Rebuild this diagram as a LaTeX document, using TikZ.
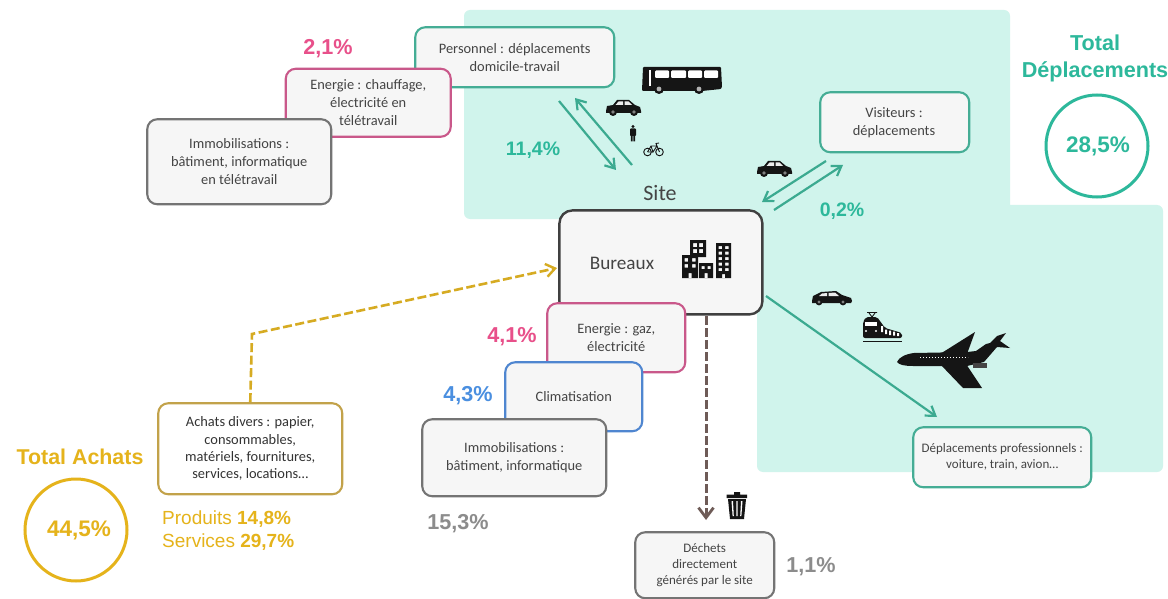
\documentclass[tikz,border=0pt]{standalone}
\usepackage{fontspec}
\setmainfont{Carlito}
\newfontfamily\pctfont{Liberation Sans}
\usetikzlibrary{arrows.meta,calc}
\definecolor{bgteal}{HTML}{D0F4EC}
\definecolor{teal}{HTML}{2DB89B}
\definecolor{arrteal}{HTML}{3BAA90}
\definecolor{boxfill}{HTML}{F6F6F6}
\definecolor{gold}{HTML}{E5B31B}
\definecolor{golddk}{HTML}{C2A24A}
\definecolor{golddash}{HTML}{D6AB22}
\definecolor{pinkb}{HTML}{C9588A}
\definecolor{pinkt}{HTML}{E8508A}
\definecolor{blueb}{HTML}{4F86D0}
\definecolor{bluet}{HTML}{4A8FE0}
\definecolor{grayb}{HTML}{747474}
\definecolor{grayt}{HTML}{8C8C8C}
\definecolor{tealb}{HTML}{45AD95}
\definecolor{brownd}{HTML}{6E5B57}
\definecolor{ink}{HTML}{444444}
\definecolor{icon}{HTML}{151515}
\tikzset{
  panel/.style={fill=bgteal,draw=none,rounded corners=6pt},
  box/.style={draw=#1,fill=boxfill,line width=2.1pt,rounded corners=10pt,text=ink,align=center,font=\fontsize{14.4}{18}\selectfont,inner sep=0pt,anchor=north west,xshift=-0.8pt,yshift=0.8pt},
  pct/.style={text=#1,font=\pctfont\bfseries\fontsize{21.6}{24}\selectfont,inner sep=0pt},
  flow/.style={draw=arrteal,line width=2.2pt,-{Straight Barb[length=9pt,width=12pt,line width=2.2pt]}},
  ring/.style={circle,draw=#1,line width=3pt,minimum size=102pt,inner sep=0pt},
  ringtext/.style={text=#1,inner sep=0pt,font=\pctfont\bfseries\fontsize{22.5}{24}\selectfont},
  ic/.style={fill=icon,draw=none},
}
\newcommand\caricon[3]{%
 \begin{scope}[shift={(#1,#2)},x=#3/35,y=-#3/35]
  \fill[ic] (0,11) -- (1,6) -- (7,5) -- (11,0) -- (23,0) -- (29,5) -- (34,7) -- (35,11) -- (35,13) -- (0,13) -- cycle;
  \fill[white!85!gray] (12.5,1.5) -- (17,1.5) -- (17,5) -- (9.5,5) -- cycle (18.5,1.5) -- (22.5,1.5) -- (26,5) -- (18.5,5) -- cycle;
  \fill[ic] (7,12) circle (4) (28,12) circle (4);
  \fill[gray] (7,12) circle (1.9) (28,12) circle (1.9);
 \end{scope}}
\newcommand\wagonicon[3]{%
 \begin{scope}[shift={(#1,#2)},x=#3/40,y=-#3/40]
  \fill[ic] (0,10) -- (1,5) -- (9,1) -- (24,0) -- (30,4) -- (39,7) -- (40,10) -- (39,12) -- (0,12) -- cycle;
  \fill[white!85!gray] (10,2.5) -- (15,2) -- (15,5) -- (7,5) -- cycle (16.5,2) -- (23,1.5) -- (27,5) -- (16.5,5) -- cycle;
  \fill[ic] (7,11) circle (3.4) (31,11) circle (3.4);
  \fill[gray] (7,11) circle (1.6) (31,11) circle (1.6);
 \end{scope}}
\begin{document}
\begin{tikzpicture}[x=1pt,y=-1pt]
\useasboundingbox (0,0) rectangle (1168,599);
\fill[white] (0,0) rectangle (1168,599);
% panels
\path[panel] (464,10) rectangle (1010,219);
\path[panel] (757,205) rectangle (1163,472);
% upper-left stack
\node[box=tealb,minimum width=199pt,minimum height=60pt] (pers) at (415,27) {Personnel : déplacements\\domicile-travail};
\node[box=pinkb,minimum width=165pt,minimum height=68pt] (enh) at (285.5,68.5) {Energie : chauffage,\\électricité en\\télétravail};
\node[box=grayb,minimum width=184pt,minimum height=85pt] (imh) at (147,119) {Immobilisations :\\bâtiment, informatique\\en télétravail};
% visitors, pro
\node[box=tealb,minimum width=149pt,minimum height=60pt] (vis) at (820,92) {};
\node[text=ink,align=center,font=\fontsize{14.4}{18}\selectfont,inner sep=0pt] (vist) at (894,123) {Visiteurs :\\déplacements};
\node[box=tealb,minimum width=178pt,minimum height=60pt,font=\fontsize{13}{16}\selectfont] (pro) at (913,427) {Déplacements professionnels :\\voiture, train, avion…};
% Bureaux
\node[box=ink,minimum width=203pt,minimum height=104pt,line width=2.4pt,rounded corners=13pt,draw=black!75] (bur) at (559,210) {};
\node[text=ink,font=\fontsize{19.2}{20}\selectfont,inner sep=0pt] (burt) at (622,263.5) {Bureaux};
% lower stack
\node[box=pinkb,minimum width=138pt,minimum height=69pt] (enb) at (547,303) {Energie : gaz,\\électricité};
\node[box=blueb,minimum width=137pt,minimum height=69pt] (cli) at (505,362) {Climatisation};
\node[box=grayb,minimum width=184pt,minimum height=77pt] (imb) at (422,419) {Immobilisations :\\bâtiment, informatique};
% achats, dechets
\node[box=golddk,fill=white,text=black!80,minimum width=184pt,minimum height=91pt,font=\fontsize{14.4}{17.4}\selectfont] (ach) at (158,403) {Achats divers : papier,\\consommables,\\matériels, fournitures,\\services, locations…};
\node[box=grayb,minimum width=139pt,minimum height=66pt,font=\fontsize{13}{16}\selectfont] (dec) at (635,532) {Déchets\\directement\\générés par le site};
% connector ends
\coordinate (p1) at (559,101); \coordinate (p2) at (616,170);
\coordinate (p3) at (632,165); \coordinate (p4) at (575,98);
\coordinate (v1) at (826,161); \coordinate (v2) at (762,202);
\coordinate (v3) at (774,210); \coordinate (v4) at (843,165);
\coordinate (t1) at (766,296); \coordinate (t2) at (937,417);
\coordinate (a1) at (252,334); \coordinate (a2) at (557,268);
\coordinate (d1) at (706,316); \coordinate (d2) at (706,520);
\draw[flow] (p1) -- (p2);
\draw[flow] (p3) -- (p4);
\draw[flow] (v1) -- (v2);
\draw[flow] (v3) -- (v4);
\draw[flow] (t1) -- (t2);
\draw[draw=golddash,line width=2.6pt,dash pattern=on 9pt off 3.5pt,-{Straight Barb[length=9pt,width=13pt,line width=2.4pt]}] (ach.north) -- (a1) -- (a2);
\draw[draw=brownd,line width=3pt,dash pattern=on 9pt off 3pt,-{Straight Barb[length=10pt,width=15pt,line width=2.8pt]}] (d1) -- (d2);
% labels
\node[text=ink,font=\fontsize{22}{24}\selectfont,inner sep=0pt] (site) at (660,193) {Site};
\node[pct=pinkt] (l1) at (328,49) {2,1\%};
\node[pct=teal,font=\pctfont\bfseries\fontsize{19.5}{22}\selectfont] (l2) at (533,150) {11,4\%};
\node[pct=teal,font=\pctfont\bfseries\fontsize{19.5}{22}\selectfont] (l3) at (842,211) {0,2\%};
\node[pct=pinkt] (l4) at (512,337) {4,1\%};
\node[pct=bluet] (l5) at (468,396) {4,3\%};
\node[pct=grayt] (l6) at (458,524) {15,3\%};
\node[pct=grayt] (l7) at (811,567) {1,1\%};
\node[text=teal,align=center,font=\pctfont\bfseries\fontsize{21.6}{26.5}\selectfont,inner sep=0pt] (td) at (1095,58.5) {Total\\Déplacements};
\node[ring=teal] (rd) at (1097,146) {};
\node[ringtext=teal] (rdt) at (1098,146.5) {28,5\%};
\node[text=gold,font=\pctfont\bfseries\fontsize{21.4}{24}\selectfont,inner sep=0pt] (ta) at (80,457) {Total Achats};
\node[ring=gold] (ra) at (76,530) {};
\node[ringtext=gold] (rat) at (79,530.5) {44,5\%};
\node[text=gold,align=left,anchor=north west,inner sep=0pt,font=\pctfont\fontsize{19}{22.5}\selectfont] (prod) at (162,511) {Produits \textbf{14,8\%}\\Services \textbf{29,7\%}};
% bus
\begin{scope}[shift={(642,67)}]
 \fill[ic,rounded corners=1pt] (1,0) -- (79,0) -- (80,20) -- (79,22) -- (60,24) -- (0,24) -- cycle;
 \fill[white] (7,3.5) rectangle (9,19);
 \fill[white,rounded corners=1pt] (13,3.5) rectangle (27,11) (29,3.5) rectangle (44,11) (46,3.5) rectangle (60,11) (62,3.5) rectangle (76,11);
 \fill[ic] (17,22) circle (5) (57,22) circle (5);
 \fill[gray!60] (17,22) circle (2.4) (57,22) circle (2.4);
\end{scope}
\caricon{606}{100}{35}
\caricon{757}{161}{35}
\wagonicon{812}{291}{40}
% walker
\begin{scope}[shift={(633,125)}]
 \fill[ic] (0,1.5) circle (1.6);
 \fill[ic,rounded corners=0.8pt] (-3,3.5) rectangle (3,11);
 \fill[ic] (-2.2,10) rectangle (-0.3,16.5) (0.3,10) rectangle (2.2,16.5);
\end{scope}
% bicycle
\begin{scope}[shift={(643,142)},line width=0.9pt,draw=icon]
 \draw (4.5,10) circle (3.8) (16.5,10) circle (3.8);
 \draw (4.5,10) -- (8,4) -- (14,4) -- (16.5,10) (8,4) -- (10,10) -- (14,4) (4.5,10) -- (10,10) (14,4) -- (13,1.5) -- (16,1);
\end{scope}
% buildings
\begin{scope}[shift={(682,240)},even odd rule]
 \fill[ic] (8,0) rectangle (24,17)  (11,3) rectangle (15,7) (17,3) rectangle (21,7) (11,9) rectangle (15,13) (17,9) rectangle (21,13);
 \fill[ic] (0,15) rectangle (16,38)  (2.5,18) rectangle (6,21.5) (10,18) rectangle (13.5,21.5) (2.5,24) rectangle (6,27.5) (10,24) rectangle (13.5,27.5) (6.5,33) rectangle (9.5,38);
 \fill[ic] (17,23) rectangle (31,38) (19.5,26) rectangle (22.5,29) (25.5,26) rectangle (28.5,29) (22.5,33) rectangle (25.5,38);
 \fill[ic] (34,3) rectangle (49,38) (36.5,6) rectangle (40,9) (43,6) rectangle (46.5,9) (36.5,11.5) rectangle (40,14.5) (43,11.5) rectangle (46.5,14.5) (36.5,17) rectangle (40,20) (43,17) rectangle (46.5,20) (36.5,22.5) rectangle (40,25.5) (43,22.5) rectangle (46.5,25.5) (36.5,28) rectangle (40,31) (43,28) rectangle (46.5,31) (40,34) rectangle (43,38);
\end{scope}
% train
\begin{scope}[shift={(863,312)}]
 \draw[icon,line width=0.9pt] (4,0.5) -- (14,0.5) (6,1) -- (9,5) -- (12,1);
 \fill[ic,rounded corners=2pt] (0,26) -- (0,10) -- (3,5) -- (14,5) -- (17,9) -- (22,16) -- (39,21) -- (39,26) -- cycle;
 \fill[white] (2,10) rectangle (14,14);
 \fill[white] (18,14) rectangle (20,20) (22,17.5) rectangle (24,22) (26,18.5) rectangle (28,23) (30,19.5) rectangle (32,23.5) (34,21) rectangle (36,24);
 \fill[white] (3,19) circle (1.2) (13,19) circle (1.2);
 \fill[ic] (0,28.5) rectangle (39,30);
\end{scope}
% plane
\begin{scope}[shift={(896,332)}]
 \fill[ic] (1,30) .. controls (3,25) and (10,22) .. (18,21) -- (71,20) -- (80,19) -- (90,12) -- (94,11) -- (101,4) -- (110,1) -- (104,9) -- (114,16) -- (101,15) -- (88,30) -- (71,34) -- (17,34) .. controls (9,34) and (3,33) .. (1,30) -- cycle;
 \fill[ic] (44,22) -- (79,0) -- (71,22) -- cycle;
 \fill[ic] (44,32) -- (67,56) -- (86,56) -- (70,32) -- cycle;
 \fill[icon!80!white] (77,31) rectangle (91,36);
 \draw[white,line width=0.9pt,dash pattern=on 1.2pt off 1.8pt] (24,25) -- (72,25);
\end{scope}
% bin
\begin{scope}[shift={(726,492)}]
 \fill[ic] (8,0) rectangle (14,2.5) (0.5,2.5) rectangle (21,6);
 \fill[ic] (2,7) -- (20,7) -- (18,27) -- (4,27) -- cycle;
 \fill[white] (5.5,9) -- (7,9) -- (7.8,24) -- (6.6,24) -- cycle (10.3,9) -- (11.7,9) -- (11.7,24) -- (10.3,24) -- cycle (15,9) -- (16.5,9) -- (15.4,24) -- (14.2,24) -- cycle;
\end{scope}
\end{tikzpicture}
\end{document}
